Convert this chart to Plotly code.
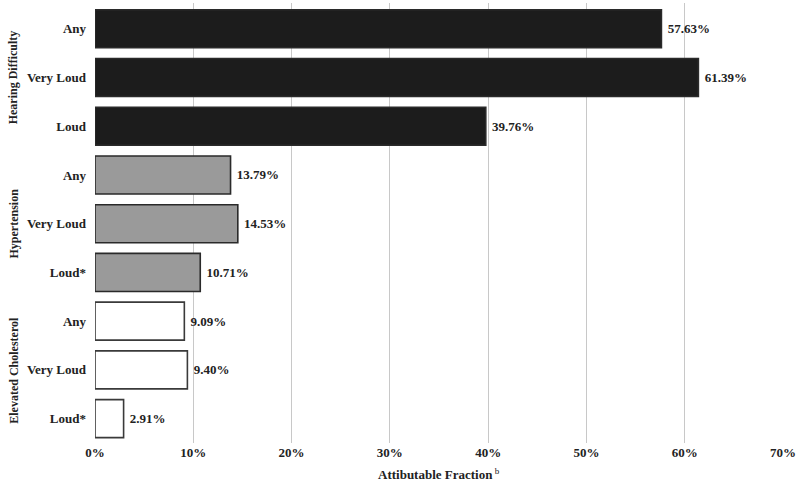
import plotly.graph_objects as go

groups = ["Hearing Difficulty", "Hypertension", "Elevated Cholesterol"]
levels = ["Any", "Very Loud", "Loud"]
tick_labels = ["Any", "Very Loud", "Loud", "Any", "Very Loud", "Loud*", "Any", "Very Loud", "Loud*"]
hearing = [57.63, 61.39, 39.76]
hypertension = [13.79, 14.53, 10.71]
cholesterol = [9.09, 9.40, 2.91]
x_ticks = [0, 10, 20, 30, 40, 50, 60, 70]
grid_ticks = [10, 20, 30, 40, 50, 60]

series = [hearing, hypertension, cholesterol]
fills = ["#1c1c1c", "#9a9a9a", "#ffffff"]
lines = ["#2a2a2a", "#2a2a2a", "#3a3a3a"]

FONT = "Liberation Serif"
fig = go.Figure()
keys_all = []
for gi, (g, vals) in enumerate(zip(groups, series)):
    keys = [f"{g}|{i}" for i in range(len(vals))]
    keys_all += keys
    fig.add_trace(go.Bar(
        x=vals, y=keys, orientation="h", width=0.78,
        marker=dict(color=fills[gi], line=dict(color=lines[gi], width=1.6)),
        text=[f"\u00a0<b>{v:.2f}%</b>" for v in vals], textposition="outside",
        textfont=dict(family=FONT, size=13, color="#222"),
        cliponaxis=False, showlegend=False, hoverinfo="skip",
    ))
    fig.add_annotation(
        x=-0.118, xref="paper", y=keys[1], yref="y",
        text=f"<b>{g}</b>", textangle=-90, showarrow=False,
        font=dict(family=FONT, size=12, color="#222"), xanchor="center",
    )

# invisible trace so the grid-only overlay axis renders
fig.add_trace(go.Scatter(x=[grid_ticks[0]], y=[keys_all[0]], xaxis="x2", mode="markers",
                         marker=dict(opacity=0), showlegend=False, hoverinfo="skip"))

fig.add_annotation(
    x=0.5, xref="paper", y=-(474 - 443) / 440, yref="paper", yanchor="middle",
    text="<b>Attibutable Fraction</b><sup> b</sup>", showarrow=False,
    font=dict(family=FONT, size=13, color="#222"),
)

fig.update_layout(
    width=800, height=481, paper_bgcolor="white", plot_bgcolor="white",
    margin=dict(l=95, r=17, t=3, b=38),
    bargap=0.22,
    font=dict(family=FONT, size=13, color="#222"),
    xaxis=dict(range=[0, 70], tickvals=x_ticks, automargin=False,
               ticktext=[f"<b>{t}%</b>" for t in x_ticks],
               showgrid=False, zeroline=False, showline=False, ticks=""),
    xaxis2=dict(range=[0, 70], overlaying="x", side="bottom", tickvals=grid_ticks,
                showticklabels=False, showgrid=True, gridcolor="#c8c8c8", gridwidth=1,
                zeroline=False, showline=False, ticks="", automargin=False),
    yaxis=dict(categoryorder="array", categoryarray=keys_all, automargin=False,
               tickvals=keys_all, ticktext=[f"<b>{t}</b>" for t in tick_labels],
               autorange="reversed", showgrid=False, ticks="", ticklabelstandoff=8),
)
fig.write_html("out.html", config={"displayModeBar": False},
               post_script="document.body.style.margin='0';document.body.style.overflow='hidden';")
